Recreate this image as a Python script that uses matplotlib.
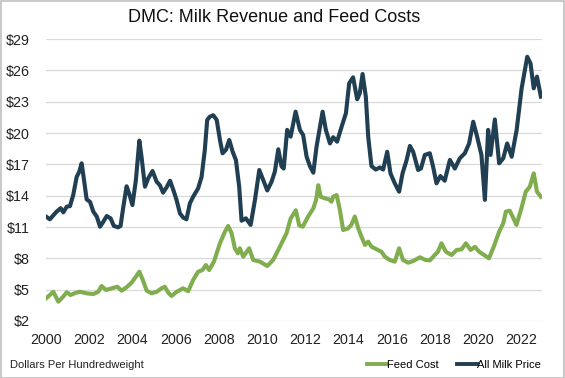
import matplotlib
matplotlib.use("Agg")
import matplotlib.pyplot as plt
from matplotlib.patches import Rectangle

plt.rcParams['font.family'] = ['Liberation Sans', 'DejaVu Sans']

# ---- data (decimal year, $ per cwt) ----
milk_x = [2000.00, 2000.18, 2000.49, 2000.68, 2000.80, 2000.96, 2001.11, 2001.26, 2001.42, 2001.54,
          2001.65, 2001.76, 2001.88, 2002.04, 2002.19, 2002.35, 2002.50, 2002.65, 2002.81, 2002.99,
          2003.14, 2003.34, 2003.45, 2003.58, 2003.73, 2003.85, 2004.00, 2004.16, 2004.32, 2004.42,
          2004.58, 2004.73, 2004.93, 2005.12, 2005.27, 2005.42, 2005.58, 2005.74, 2005.90, 2006.04,
          2006.20, 2006.35, 2006.50, 2006.66, 2006.81, 2007.04, 2007.20, 2007.35, 2007.46, 2007.58,
          2007.74, 2007.90, 2008.05, 2008.17, 2008.33, 2008.48, 2008.64, 2008.79, 2008.94, 2009.05,
          2009.25, 2009.47, 2009.67, 2009.87, 2010.05, 2010.24, 2010.44, 2010.59, 2010.75, 2010.90,
          2011.00, 2011.16, 2011.32, 2011.55, 2011.75, 2011.90, 2012.06, 2012.21, 2012.37, 2012.52,
          2012.80, 2012.95, 2013.14, 2013.29, 2013.47, 2013.68, 2013.88, 2014.03, 2014.21, 2014.40,
          2014.52, 2014.65, 2014.80, 2014.91, 2015.06, 2015.26, 2015.45, 2015.60, 2015.79, 2015.94,
          2016.14, 2016.34, 2016.50, 2016.68, 2016.84, 2016.99, 2017.22, 2017.35, 2017.53, 2017.76,
          2017.91, 2018.07, 2018.25, 2018.45, 2018.69, 2018.92, 2019.15, 2019.38, 2019.58, 2019.77,
          2019.95, 2020.15, 2020.31, 2020.46, 2020.57, 2020.77, 2020.97, 2021.16, 2021.34, 2021.55,
          2021.78, 2022.01, 2022.27, 2022.42, 2022.57, 2022.72, 2022.90]
milk_y = [12.0, 11.74, 12.47, 12.8, 12.4, 12.95, 13.0, 14.06, 15.8, 16.3,
          17.1, 15.5, 13.65, 13.4, 12.47, 12.0, 11.03, 11.5, 12.05, 11.83,
          11.1, 10.97, 11.1, 12.95, 14.9, 14.2, 13.1, 15.5, 19.27, 17.73,
          14.86, 15.66, 16.36, 15.34, 15.0, 14.29, 14.8, 15.43, 14.5, 13.6,
          12.3, 11.9, 11.74, 13.27, 13.9, 14.7, 15.8, 18.4, 21.25, 21.56,
          21.7, 21.25, 19.33, 18.06, 18.4, 19.33, 18.2, 17.4, 14.86, 11.6,
          11.83, 11.2, 13.6, 16.46, 15.5, 14.5, 15.34, 16.3, 18.44, 16.8,
          16.6, 20.3, 19.65, 22.04, 20.3, 19.8, 17.73, 16.84, 16.2, 18.7,
          22.04, 20.3, 19.0, 19.6, 19.17, 20.6, 21.9, 24.76, 25.33, 23.23,
          23.8, 25.65, 23.48, 19.65, 16.84, 16.5, 16.7, 16.5, 18.2, 16.14,
          15.18, 14.38, 16.14, 17.35, 18.76, 18.2, 16.46, 16.6, 17.9, 18.06,
          16.8, 15.18, 15.88, 15.43, 17.42, 16.6, 17.58, 18.06, 19.0, 21.08,
          19.65, 17.9, 13.6, 20.3, 17.9, 21.3, 17.1, 17.58, 19.0, 17.73,
          20.3, 24.28, 27.3, 26.67, 24.28, 25.4, 23.48]

feed_x = [2000.00, 2000.18, 2000.34, 2000.57, 2000.77, 2000.96, 2001.14, 2001.39, 2001.57, 2001.88,
          2002.19, 2002.42, 2002.57, 2002.78, 2003.04, 2003.30, 2003.50, 2003.73, 2003.96, 2004.16,
          2004.32, 2004.47, 2004.66, 2004.89, 2005.12, 2005.35, 2005.50, 2005.66, 2005.81, 2006.05,
          2006.35, 2006.58, 2006.81, 2007.04, 2007.24, 2007.40, 2007.55, 2007.77, 2008.05, 2008.28,
          2008.43, 2008.59, 2008.74, 2008.88, 2008.97, 2009.13, 2009.40, 2009.59, 2009.90, 2010.24,
          2010.51, 2010.82, 2011.13, 2011.32, 2011.56, 2011.72, 2011.88, 2012.13, 2012.37, 2012.50,
          2012.60, 2012.71, 2012.90, 2013.10, 2013.21, 2013.29, 2013.45, 2013.60, 2013.75, 2013.98,
          2014.13, 2014.29, 2014.45, 2014.60, 2014.76, 2014.91, 2015.06, 2015.30, 2015.52, 2015.68,
          2015.91, 2016.14, 2016.34, 2016.52, 2016.76, 2016.99, 2017.30, 2017.55, 2017.76, 2017.99,
          2018.14, 2018.30, 2018.50, 2018.77, 2019.00, 2019.23, 2019.43, 2019.65, 2019.85, 2020.04,
          2020.50, 2020.72, 2020.97, 2021.16, 2021.28, 2021.46, 2021.58, 2021.77, 2022.00, 2022.20,
          2022.39, 2022.57, 2022.72, 2022.90]
feed_y = [4.17, 4.49, 4.8, 3.85, 4.27, 4.75, 4.49, 4.71, 4.8, 4.65,
          4.58, 4.8, 5.35, 4.97, 5.13, 5.28, 4.9, 5.23, 5.67, 6.24,
          6.72, 5.99, 4.9, 4.65, 4.8, 5.13, 5.28, 4.71, 4.4, 4.8,
          5.13, 4.85, 5.93, 6.72, 6.88, 7.36, 6.88, 7.68, 9.44, 10.55,
          11.1, 10.4, 8.96, 8.48, 8.96, 8.16, 8.96, 7.84, 7.68, 7.27,
          7.84, 9.1, 10.4, 11.8, 12.6, 11.15, 11.03, 12.0, 12.79, 13.6,
          15.0, 13.9, 13.75, 13.65, 13.42, 13.9, 14.06, 12.63, 10.71, 10.87,
          11.2, 12.0, 10.87, 10.07, 9.28, 9.6, 9.12, 8.86, 8.64, 8.16,
          7.84, 7.68, 8.96, 7.84, 7.58, 7.74, 8.1, 7.85, 7.8, 8.32,
          8.64, 9.44, 8.64, 8.32, 8.8, 8.86, 9.44, 8.8, 9.1, 8.64,
          8.0, 9.12, 10.55, 11.36, 12.47, 12.56, 12.05, 11.2, 12.79, 14.38,
          14.86, 16.14, 14.38, 13.9]

y_ticks = [2, 5, 8, 11, 14, 17, 20, 23, 26, 29]
x_ticks = list(range(2000, 2023, 2))

MILK = '#213f52'
FEED = '#80ad4e'

fig = plt.figure(figsize=(5.65, 3.78), dpi=100)
ax = fig.add_axes([0.0814, 0.1508, 0.8778, 0.746])

ax.plot(feed_x, feed_y, color=FEED, lw=2.95, solid_joinstyle='round', label='Feed Cost', zorder=3)
ax.plot(milk_x, milk_y, color=MILK, lw=2.95, solid_joinstyle='round', label='All Milk Price', zorder=4)

ax.set_xlim(2000, 2022.95)
ax.set_ylim(2, 29)
ax.set_yticks(y_ticks)
ax.set_yticklabels([f'${v}' for v in y_ticks])
ax.set_xticks(x_ticks)
ax.set_xticklabels([str(v) for v in x_ticks])
ax.tick_params(axis='both', length=0, labelsize=10.3, colors='#222222')
ax.tick_params(axis='y', pad=12)
ax.tick_params(axis='x', pad=9)
for s in ax.spines.values():
    s.set_visible(False)
ax.grid(axis='y', color='#d9d9d9', lw=0.9)
ax.set_axisbelow(True)

fig.text(0.485, 0.955, 'DMC: Milk Revenue and Feed Costs', ha='center', va='center',
         fontsize=13, color='#111111')
fig.text(0.018, 0.034, 'Dollars Per Hundredweight', ha='left', va='center',
         fontsize=8, color='#222222')

leg = fig.legend(loc='center right', bbox_to_anchor=(0.958, 0.034), ncol=2, frameon=False,
                 fontsize=8, handlelength=1.8, handletextpad=0.05, columnspacing=1.6,
                 borderpad=0, borderaxespad=0)
for line in leg.get_lines():
    line.set_linewidth(2.8)

fig.patches.append(Rectangle((0.001, 0.001), 0.997, 0.996, transform=fig.transFigure,
                             fill=False, edgecolor='#c0c0c0', lw=1.2))

fig.savefig('out.png', dpi=100)
